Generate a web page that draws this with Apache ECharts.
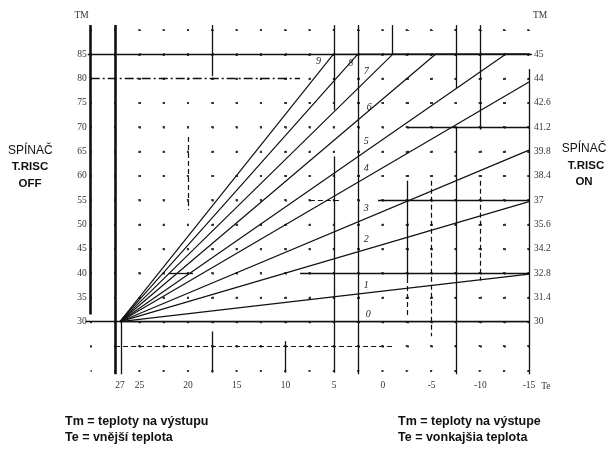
<!DOCTYPE html>
<html><head><meta charset="utf-8">
<script src="https://cdn.jsdelivr.net/npm/echarts@6/dist/echarts.min.js"></script>
<style>html,body{margin:0;padding:0;background:#fff}#c{width:611px;height:452px}</style>
</head><body><div id="c"></div>
<script>
// ---------------- data ----------------
const xTickValues = [27, 25, 20, 15, 10, 5, 0, -5, -10, -15];
const leftTickValues = [30, 35, 40, 45, 50, 55, 60, 65, 70, 75, 80, 85];
const rightTickLabels = ['30', '31.4', '32.8', '34.2', '35.6', '37', '38.4', '39.8', '41.2', '42.6', '44', '45'];
const curveNames = ['0', '1', '2', '3', '4', '5', '6', '7', '8', '9'];
const curve0 = [[27, 30], [-15, 30]];
const curve1 = [[27, 30], [-15, 39.8]];
const curve2 = [[27, 30], [-15, 54.7]];
const curve3 = [[27, 30], [-15, 65.3]];
const curve4 = [[27, 30], [-15, 79.3]];
const curve5 = [[27, 30], [-12.6, 85], [-15, 85]];
const curve6 = [[27, 30], [-5.4, 85], [-15, 85]];
const curve7 = [[27, 30], [-1.0, 85], [-15, 85]];
const curve8 = [[27, 30], [2.6, 85], [-15, 85]];
const curve9 = [[27, 30], [5.1, 85], [-15, 85]];
const curves = [curve0, curve1, curve2, curve3, curve4, curve5, curve6, curve7, curve8, curve9];
// guide / reference lines of the drawing, [x1, y1, x2, y2] in axis units
const guideThick = [[30, 91, 30, 31.5], [27.5, 91, 27.5, 19.2]];
const guideSolid = [
  [30.3, 85, -15.3, 85], [30.5, 30, -15, 30], [-2.5, 70, -15, 70], [0.5, 55, -15, 55],
  [8.5, 40, -15, 40], [22, 40, 19.5, 40], [-15, 82, -15, 19.2], [2.5, 91, 2.5, 19.2],
  [5, 91, 5, 73.5], [5, 64, 5, 19.5], [-1, 91, -1, 85], [-2.5, 59, -2.5, 39],
  [-7.5, 91, -7.5, 78], [-7.5, 70, -7.5, 19.2], [-10, 91, -10, 69.5],
  [17.5, 91, 17.5, 80.5], [17.5, 28, 17.5, 19.5], [10, 26, 10, 19.5], [26.9, 30, 26.9, 19.2]
];
const guideDashed = [
  [7.5, 55, 4.5, 55], [27.5, 25, -1, 25], [20, 68, 20, 53], [-5, 59, -5, 27],
  [-10, 59, -10, 38.5], [-2.5, 39, -2.5, 31]
];
const guideDashDot = [[30, 80, 8.5, 80]];

// ---------------- chart ----------------
const chart = echarts.init(document.getElementById('c'));
const serif = 'Liberation Serif';

function yOn(curve, x) {
  for (let i = 0; i < curve.length - 1; i++) {
    const a = curve[i], b = curve[i + 1];
    if (x <= a[0] && x >= b[0]) {
      return a[1] + (b[1] - a[1]) * (a[0] - x) / (a[0] - b[0]);
    }
  }
  return curve[curve.length - 1][1];
}
// label placement (style): x position along curve and pixel offset
const labelPlace = [
  [1.5, [0, -7]], [1.7, [0, -8]], [1.7, [0, -10]], [1.7, [0, -10]], [1.7, [0, -9]],
  [1.7, [0, -9]], [1.7, [3, -6]], [1.7, [0, -9]], [3.4, [1, 0]], [5.7, [-9, 0]]
];

function mk(list, style) {
  return list.map(g => [{ coord: [g[0], g[1]], lineStyle: style }, { coord: [g[2], g[3]] }]);
}

const series = curves.map((c, i) => ({
  type: 'line', name: curveNames[i], data: c, symbol: 'none', silent: true,
  xAxisIndex: 0, yAxisIndex: 0,
  lineStyle: { color: '#111', width: 1.2 }, z: 3, clip: false,
  markPoint: {
    symbol: 'circle', symbolSize: 1, itemStyle: { color: 'rgba(0,0,0,0)' }, silent: true,
    data: [{ coord: [labelPlace[i][0], yOn(c, labelPlace[i][0])] }],
    label: { show: true, position: 'inside', formatter: curveNames[i], offset: labelPlace[i][1],
      fontFamily: serif, fontSize: 10, fontStyle: 'italic', color: '#222' }
  }
}));
series.push({
  type: 'line', data: [], silent: true, z: 2, xAxisIndex: 1, yAxisIndex: 2,
  markLine: {
    symbol: ['none', 'none'], silent: true, animation: false, label: { show: false },
    data: [].concat(
      mk(guideThick, { color: '#111', width: 2.6, type: 'solid' }),
      mk(guideSolid, { color: '#111', width: 1.3, type: 'solid' }),
      mk(guideDashed, { color: '#111', width: 1.2, type: [5, 3] }),
      mk(guideDashDot, { color: '#111', width: 1.3, type: [9, 3, 2, 3] })
    )
  }
});

chart.setOption({
  animation: false,
  backgroundColor: '#fff',
  grid: [
    { left: 90.7, right: 82, top: 30, bottom: 81.7, containLabel: false },
    { left: 85.83, right: 77.13, top: 25.12, bottom: 76.8, containLabel: false }
  ],
  xAxis: [{
    type: 'value', inverse: true, min: -15, max: 30, interval: 2.5, gridIndex: 0,
    axisLine: { show: false, onZero: false }, axisTick: { show: false },
    splitLine: { show: true, lineStyle: { color: '#333', width: 2, type: [2, 22.35], dashOffset: 1 } },
    axisLabel: { customValues: xTickValues, margin: 10, fontFamily: serif, fontSize: 9.5, color: '#333',
      formatter: v => String(v) },
    name: 'Te', nameLocation: 'start', nameGap: 12,
    nameTextStyle: { fontFamily: serif, fontSize: 9.5, color: '#333', verticalAlign: 'top', padding: [11, 0, 0, 0] }
  }, {
    type: 'value', inverse: true, min: -15.5, max: 30.5, gridIndex: 1, show: false
  }],
  yAxis: [{
    type: 'value', min: 20, max: 90, interval: 5, position: 'left', gridIndex: 0,
    axisLine: { show: false, onZero: false }, axisTick: { show: false },
    splitLine: { show: true, lineStyle: { color: '#333', width: 2, type: [2, 22.31], dashOffset: 1 } },
    axisLabel: { margin: 4, fontFamily: serif, fontSize: 9.5, color: '#333', padding: [0, 0, 6, 0],
      formatter: v => leftTickValues.indexOf(v) >= 0 ? String(v) : '' },
    name: 'TM', nameGap: 10,
    nameTextStyle: { fontFamily: serif, fontSize: 9.5, color: '#333', align: 'right', padding: [0, 2, 0, 0] }
  }, {
    type: 'value', min: 20, max: 90, interval: 5, position: 'right', gridIndex: 0,
    axisLine: { show: false, onZero: false }, axisTick: { show: false }, splitLine: { show: false },
    axisLabel: { margin: 5, fontFamily: serif, fontSize: 9.5, color: '#333', padding: [0, 0, 6, 0],
      formatter: v => { const k = leftTickValues.indexOf(v); return k >= 0 ? rightTickLabels[k] : ''; } },
    name: 'TM', nameGap: 10,
    nameTextStyle: { fontFamily: serif, fontSize: 9.5, color: '#333', align: 'left', padding: [0, 0, 0, 4] }
  }, {
    type: 'value', min: 19, max: 91, gridIndex: 1, show: false
  }],
  series: series,
  graphic: [
    { type: 'text', left: 8, top: 145, style: { text: 'SPÍNAČ', font: '12px "Liberation Sans"', fill: '#111', textAlign: 'left' } },
    { type: 'text', x: 30, y: 161, style: { text: 'T.RISC', font: 'bold 11.5px "Liberation Sans"', fill: '#111', textAlign: 'center' } },
    { type: 'text', x: 30, y: 178, style: { text: 'OFF', font: 'bold 11.5px "Liberation Sans"', fill: '#111', textAlign: 'center' } },
    { type: 'text', x: 584, y: 143, style: { text: 'SPÍNAČ', font: '12px "Liberation Sans"', fill: '#111', textAlign: 'center' } },
    { type: 'text', x: 586, y: 160, style: { text: 'T.RISC', font: 'bold 11.5px "Liberation Sans"', fill: '#111', textAlign: 'center' } },
    { type: 'text', x: 584, y: 176, style: { text: 'ON', font: 'bold 11.5px "Liberation Sans"', fill: '#111', textAlign: 'center' } },
    { type: 'text', x: 65, y: 415, style: { text: 'Tm = teploty na výstupu', font: 'bold 12.5px "Liberation Sans"', fill: '#111' } },
    { type: 'text', x: 65, y: 431, style: { text: 'Te = vnější teplota', font: 'bold 12.5px "Liberation Sans"', fill: '#111' } },
    { type: 'text', x: 398, y: 415, style: { text: 'Tm = teploty na výstupe', font: 'bold 12.5px "Liberation Sans"', fill: '#111' } },
    { type: 'text', x: 398, y: 431, style: { text: 'Te = vonkajšia teplota', font: 'bold 12.5px "Liberation Sans"', fill: '#111' } }
  ]
});
</script></body></html>
